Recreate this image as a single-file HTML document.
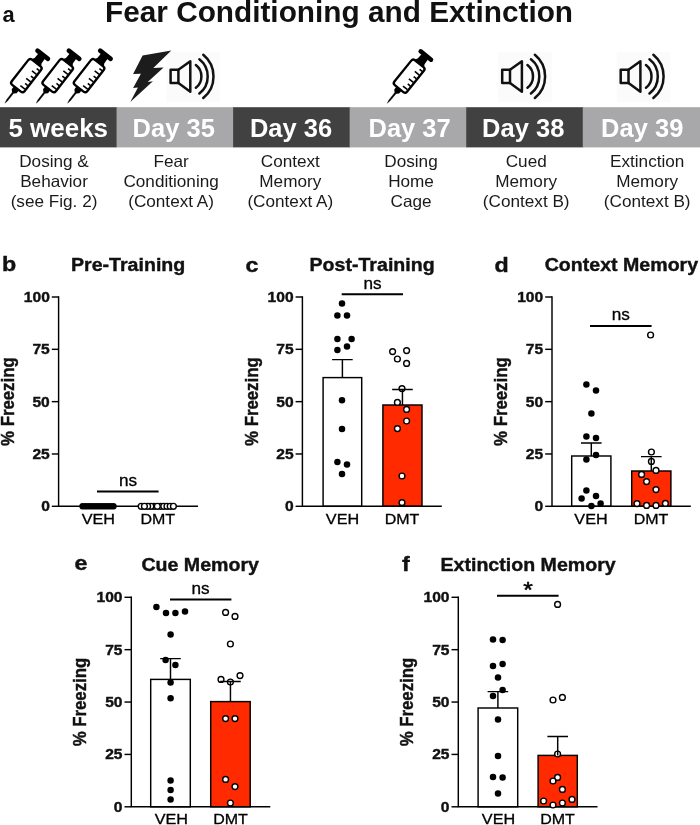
<!DOCTYPE html>
<html lang="en"><head><meta charset="utf-8"><title>Fear Conditioning and Extinction</title>
<style>
html,body{margin:0;padding:0;background:#fff;}
body{width:700px;height:825px;overflow:hidden;}
svg{display:block;font-family:'Liberation Sans', Arial, Helvetica, sans-serif;}
</style></head><body>
<svg width="700" height="825" viewBox="0 0 700 825">
<rect width="700" height="825" fill="#fff"/>
<text transform="translate(339.00,21.60) scale(1.01,1)" font-size="29.5" font-weight="700" text-anchor="middle" fill="#111" >Fear Conditioning and Extinction</text>
<text transform="translate(2.60,22.30) scale(0.97,1)" font-size="22.5" font-weight="700" text-anchor="start" fill="#111" >a</text>
<rect x="0.00" y="107.2" width="117.05" height="40.2" fill="#414141"/>
<text transform="translate(58.25,136.90) scale(1.03,1)" font-size="25.2" font-weight="700" text-anchor="middle" fill="#fff" >5 weeks</text>
<text transform="translate(54.00,167.20) scale(1.04,1)" font-size="16.5"  text-anchor="middle" fill="#1a1a1a" >Dosing &amp;</text>
<text transform="translate(54.00,187.20) scale(1.04,1)" font-size="16.5"  text-anchor="middle" fill="#1a1a1a" >Behavior</text>
<text transform="translate(54.00,207.20) scale(1.04,1)" font-size="16.5"  text-anchor="middle" fill="#1a1a1a" >(see Fig. 2)</text>
<rect x="116.55" y="107.2" width="117.05" height="40.2" fill="#a8a8aa"/>
<text transform="translate(173.70,136.90) scale(1.012,1)" font-size="25.2" font-weight="700" text-anchor="middle" fill="#fff" >Day 35</text>
<text transform="translate(171.10,167.20) scale(1.04,1)" font-size="16.5"  text-anchor="middle" fill="#1a1a1a" >Fear</text>
<text transform="translate(171.10,187.20) scale(1.04,1)" font-size="16.5"  text-anchor="middle" fill="#1a1a1a" >Conditioning</text>
<text transform="translate(171.10,207.20) scale(1.04,1)" font-size="16.5"  text-anchor="middle" fill="#1a1a1a" >(Context A)</text>
<rect x="233.10" y="107.2" width="117.05" height="40.2" fill="#414141"/>
<text transform="translate(291.00,136.90) scale(1.012,1)" font-size="25.2" font-weight="700" text-anchor="middle" fill="#fff" >Day 36</text>
<text transform="translate(290.30,167.20) scale(1.04,1)" font-size="16.5"  text-anchor="middle" fill="#1a1a1a" >Context</text>
<text transform="translate(290.30,187.20) scale(1.04,1)" font-size="16.5"  text-anchor="middle" fill="#1a1a1a" >Memory</text>
<text transform="translate(290.30,207.20) scale(1.04,1)" font-size="16.5"  text-anchor="middle" fill="#1a1a1a" >(Context A)</text>
<rect x="349.65" y="107.2" width="117.05" height="40.2" fill="#a8a8aa"/>
<text transform="translate(409.60,136.90) scale(1.012,1)" font-size="25.2" font-weight="700" text-anchor="middle" fill="#fff" >Day 37</text>
<text transform="translate(411.00,167.20) scale(1.04,1)" font-size="16.5"  text-anchor="middle" fill="#1a1a1a" >Dosing</text>
<text transform="translate(411.00,187.20) scale(1.04,1)" font-size="16.5"  text-anchor="middle" fill="#1a1a1a" >Home</text>
<text transform="translate(411.00,207.20) scale(1.04,1)" font-size="16.5"  text-anchor="middle" fill="#1a1a1a" >Cage</text>
<rect x="466.20" y="107.2" width="117.05" height="40.2" fill="#414141"/>
<text transform="translate(523.20,136.90) scale(1.012,1)" font-size="25.2" font-weight="700" text-anchor="middle" fill="#fff" >Day 38</text>
<text transform="translate(526.20,167.20) scale(1.04,1)" font-size="16.5"  text-anchor="middle" fill="#1a1a1a" >Cued</text>
<text transform="translate(526.20,187.20) scale(1.04,1)" font-size="16.5"  text-anchor="middle" fill="#1a1a1a" >Memory</text>
<text transform="translate(526.20,207.20) scale(1.04,1)" font-size="16.5"  text-anchor="middle" fill="#1a1a1a" >(Context B)</text>
<rect x="582.75" y="107.2" width="117.25" height="40.2" fill="#a8a8aa"/>
<text transform="translate(642.20,136.90) scale(1.012,1)" font-size="25.2" font-weight="700" text-anchor="middle" fill="#fff" >Day 39</text>
<text transform="translate(647.20,167.20) scale(1.04,1)" font-size="16.5"  text-anchor="middle" fill="#1a1a1a" >Extinction</text>
<text transform="translate(647.20,187.20) scale(1.04,1)" font-size="16.5"  text-anchor="middle" fill="#1a1a1a" >Memory</text>
<text transform="translate(647.20,207.20) scale(1.04,1)" font-size="16.5"  text-anchor="middle" fill="#1a1a1a" >(Context B)</text>
<rect x="166.6" y="52" width="53.5" height="50" fill="#fbfbfb"/>
<rect x="498.2" y="52" width="53.5" height="50" fill="#fbfbfb"/>
<rect x="616.7" y="52" width="53.5" height="50" fill="#fbfbfb"/>
<g transform="translate(4.7,103.4) rotate(-52)">
<path d="M0.3,0 L4,-0.75 L15,-0.85 L15,0.85 L4,0.75 Z" fill="#000" stroke="#000" stroke-width="0.3" stroke-linejoin="round"/>
<path d="M13.4,-1.2 L15.4,-3.1 L19.5,-3.3 L19.5,3.3 L15.4,3.1 L13.4,1.2 Z" fill="#000"/>
<rect x="19.2" y="-8.1" width="32" height="16.2" rx="2.6" fill="#fff" stroke="#000" stroke-width="2.35"/>
<line x1="23.6" y1="1.5" x2="23.6" y2="7.2" stroke="#000" stroke-width="1.6"/>
<line x1="28.3" y1="3.8" x2="28.3" y2="7.2" stroke="#000" stroke-width="1.6"/>
<line x1="33.0" y1="1.5" x2="33.0" y2="7.2" stroke="#000" stroke-width="1.6"/>
<line x1="37.7" y1="3.8" x2="37.7" y2="7.2" stroke="#000" stroke-width="1.6"/>
<line x1="42.4" y1="1.5" x2="42.4" y2="7.2" stroke="#000" stroke-width="1.6"/>
<line x1="47.1" y1="3.8" x2="47.1" y2="7.2" stroke="#000" stroke-width="1.6"/>
<path d="M51.6,-6 L54.2,-4.4 L60,-4.1 L60,4.1 L54.2,4.4 L51.6,6 Z" fill="#000"/>
<rect x="59.5" y="-8.9" width="4.5" height="17.8" rx="2.2" fill="#000"/>
</g>
<g transform="translate(36.050000000000004,103.4) rotate(-52)">
<path d="M0.3,0 L4,-0.75 L15,-0.85 L15,0.85 L4,0.75 Z" fill="#000" stroke="#000" stroke-width="0.3" stroke-linejoin="round"/>
<path d="M13.4,-1.2 L15.4,-3.1 L19.5,-3.3 L19.5,3.3 L15.4,3.1 L13.4,1.2 Z" fill="#000"/>
<rect x="19.2" y="-8.1" width="32" height="16.2" rx="2.6" fill="#fff" stroke="#000" stroke-width="2.35"/>
<line x1="23.6" y1="1.5" x2="23.6" y2="7.2" stroke="#000" stroke-width="1.6"/>
<line x1="28.3" y1="3.8" x2="28.3" y2="7.2" stroke="#000" stroke-width="1.6"/>
<line x1="33.0" y1="1.5" x2="33.0" y2="7.2" stroke="#000" stroke-width="1.6"/>
<line x1="37.7" y1="3.8" x2="37.7" y2="7.2" stroke="#000" stroke-width="1.6"/>
<line x1="42.4" y1="1.5" x2="42.4" y2="7.2" stroke="#000" stroke-width="1.6"/>
<line x1="47.1" y1="3.8" x2="47.1" y2="7.2" stroke="#000" stroke-width="1.6"/>
<path d="M51.6,-6 L54.2,-4.4 L60,-4.1 L60,4.1 L54.2,4.4 L51.6,6 Z" fill="#000"/>
<rect x="59.5" y="-8.9" width="4.5" height="17.8" rx="2.2" fill="#000"/>
</g>
<g transform="translate(67.4,103.4) rotate(-52)">
<path d="M0.3,0 L4,-0.75 L15,-0.85 L15,0.85 L4,0.75 Z" fill="#000" stroke="#000" stroke-width="0.3" stroke-linejoin="round"/>
<path d="M13.4,-1.2 L15.4,-3.1 L19.5,-3.3 L19.5,3.3 L15.4,3.1 L13.4,1.2 Z" fill="#000"/>
<rect x="19.2" y="-8.1" width="32" height="16.2" rx="2.6" fill="#fff" stroke="#000" stroke-width="2.35"/>
<line x1="23.6" y1="1.5" x2="23.6" y2="7.2" stroke="#000" stroke-width="1.6"/>
<line x1="28.3" y1="3.8" x2="28.3" y2="7.2" stroke="#000" stroke-width="1.6"/>
<line x1="33.0" y1="1.5" x2="33.0" y2="7.2" stroke="#000" stroke-width="1.6"/>
<line x1="37.7" y1="3.8" x2="37.7" y2="7.2" stroke="#000" stroke-width="1.6"/>
<line x1="42.4" y1="1.5" x2="42.4" y2="7.2" stroke="#000" stroke-width="1.6"/>
<line x1="47.1" y1="3.8" x2="47.1" y2="7.2" stroke="#000" stroke-width="1.6"/>
<path d="M51.6,-6 L54.2,-4.4 L60,-4.1 L60,4.1 L54.2,4.4 L51.6,6 Z" fill="#000"/>
<rect x="59.5" y="-8.9" width="4.5" height="17.8" rx="2.2" fill="#000"/>
</g>
<g transform="translate(387,103.5) rotate(-51)">
<path d="M0.3,0 L4,-0.75 L15,-0.85 L15,0.85 L4,0.75 Z" fill="#000" stroke="#000" stroke-width="0.3" stroke-linejoin="round"/>
<path d="M13.4,-1.2 L15.4,-3.1 L19.5,-3.3 L19.5,3.3 L15.4,3.1 L13.4,1.2 Z" fill="#000"/>
<rect x="19.2" y="-8.1" width="32" height="16.2" rx="2.6" fill="#fff" stroke="#000" stroke-width="2.35"/>
<line x1="23.6" y1="1.5" x2="23.6" y2="7.2" stroke="#000" stroke-width="1.6"/>
<line x1="28.3" y1="3.8" x2="28.3" y2="7.2" stroke="#000" stroke-width="1.6"/>
<line x1="33.0" y1="1.5" x2="33.0" y2="7.2" stroke="#000" stroke-width="1.6"/>
<line x1="37.7" y1="3.8" x2="37.7" y2="7.2" stroke="#000" stroke-width="1.6"/>
<line x1="42.4" y1="1.5" x2="42.4" y2="7.2" stroke="#000" stroke-width="1.6"/>
<line x1="47.1" y1="3.8" x2="47.1" y2="7.2" stroke="#000" stroke-width="1.6"/>
<path d="M51.6,-6 L54.2,-4.4 L60,-4.1 L60,4.1 L54.2,4.4 L51.6,6 Z" fill="#000"/>
<rect x="59.5" y="-8.9" width="4.5" height="17.8" rx="2.2" fill="#000"/>
</g>
<polygon points="142.6,55.5 171.3,50.6 153.3,68 163.6,67.5 147.7,81.9 152.9,81.2 130.3,102 137.9,87.4 133.1,87.9 140.9,73.7 133.1,74.1" fill="#1c1c1c"/>
<g transform="translate(0,0)" fill="none" stroke="#111" stroke-width="2.5" stroke-linecap="round" stroke-linejoin="round">
<path d="M178.4,69.7 L170.6,69.7 L170.6,83.1 L178.4,83.1 Z"/>
<path d="M178.4,69.7 L190.3,61.2 L190.3,91.7 L178.4,83.1"/>
<path d="M195.87,65.05 A14.4,14.4 0 0 1 195.87,87.75"/>
<path d="M199.36,59.30 A21.7,21.7 0 0 1 199.36,93.50"/>
<path d="M203.27,54.76 A28.0,28.0 0 0 1 203.27,98.04"/>
</g>
<g transform="translate(331.6,0)" fill="none" stroke="#111" stroke-width="2.5" stroke-linecap="round" stroke-linejoin="round">
<path d="M178.4,69.7 L170.6,69.7 L170.6,83.1 L178.4,83.1 Z"/>
<path d="M178.4,69.7 L190.3,61.2 L190.3,91.7 L178.4,83.1"/>
<path d="M195.87,65.05 A14.4,14.4 0 0 1 195.87,87.75"/>
<path d="M199.36,59.30 A21.7,21.7 0 0 1 199.36,93.50"/>
<path d="M203.27,54.76 A28.0,28.0 0 0 1 203.27,98.04"/>
</g>
<g transform="translate(450.1,0)" fill="none" stroke="#111" stroke-width="2.5" stroke-linecap="round" stroke-linejoin="round">
<path d="M178.4,69.7 L170.6,69.7 L170.6,83.1 L178.4,83.1 Z"/>
<path d="M178.4,69.7 L190.3,61.2 L190.3,91.7 L178.4,83.1"/>
<path d="M195.87,65.05 A14.4,14.4 0 0 1 195.87,87.75"/>
<path d="M199.36,59.30 A21.7,21.7 0 0 1 199.36,93.50"/>
<path d="M203.27,54.76 A28.0,28.0 0 0 1 203.27,98.04"/>
</g>
<text transform="translate(2.00,271.40) scale(1.14,1)" font-size="20.4" font-weight="700" text-anchor="start" fill="#111" stroke="#111" stroke-width="0.4">b</text>
<text transform="translate(128.10,270.90) scale(1.065,1)" font-size="18.4" font-weight="700" text-anchor="middle" fill="#111" stroke="#111" stroke-width="0.4">Pre-Training</text>
<path d="M58.6,296.28 L58.6,506.3 L198,506.3" fill="none" stroke="#000" stroke-width="1.45"/>
<line x1="51.800000000000004" y1="297.00" x2="58.6" y2="297.00" stroke="#000" stroke-width="1.45"/>
<text transform="translate(49.80,302.00) scale(1.075,1)" font-size="14.5" font-weight="700" text-anchor="end" fill="#111" stroke="#111" stroke-width="0.4">100</text>
<line x1="51.800000000000004" y1="349.32" x2="58.6" y2="349.32" stroke="#000" stroke-width="1.45"/>
<text transform="translate(49.80,354.32) scale(1.075,1)" font-size="14.5" font-weight="700" text-anchor="end" fill="#111" stroke="#111" stroke-width="0.4">75</text>
<line x1="51.800000000000004" y1="401.65" x2="58.6" y2="401.65" stroke="#000" stroke-width="1.45"/>
<text transform="translate(49.80,406.65) scale(1.075,1)" font-size="14.5" font-weight="700" text-anchor="end" fill="#111" stroke="#111" stroke-width="0.4">50</text>
<line x1="51.800000000000004" y1="453.98" x2="58.6" y2="453.98" stroke="#000" stroke-width="1.45"/>
<text transform="translate(49.80,458.98) scale(1.075,1)" font-size="14.5" font-weight="700" text-anchor="end" fill="#111" stroke="#111" stroke-width="0.4">25</text>
<line x1="51.800000000000004" y1="506.30" x2="58.6" y2="506.30" stroke="#000" stroke-width="1.45"/>
<text transform="translate(49.80,511.30) scale(1.075,1)" font-size="14.5" font-weight="700" text-anchor="end" fill="#111" stroke="#111" stroke-width="0.4">0</text>
<text transform="translate(14.0,401.65) rotate(-90) scale(1,1.08)" font-size="16.8" font-weight="700" text-anchor="middle" fill="#111" stroke="#111" stroke-width="0.4">% Freezing</text>
<circle cx="82.60" cy="506.30" r="3.25" fill="#000"/>
<circle cx="85.40" cy="506.30" r="3.25" fill="#000"/>
<circle cx="88.20" cy="506.30" r="3.25" fill="#000"/>
<circle cx="91.00" cy="506.30" r="3.25" fill="#000"/>
<circle cx="93.80" cy="506.30" r="3.25" fill="#000"/>
<circle cx="96.60" cy="506.30" r="3.25" fill="#000"/>
<circle cx="99.40" cy="506.30" r="3.25" fill="#000"/>
<circle cx="102.20" cy="506.30" r="3.25" fill="#000"/>
<circle cx="105.00" cy="506.30" r="3.25" fill="#000"/>
<circle cx="107.80" cy="506.30" r="3.25" fill="#000"/>
<circle cx="110.60" cy="506.30" r="3.25" fill="#000"/>
<circle cx="113.40" cy="506.30" r="3.25" fill="#000"/>
<circle cx="141.20" cy="506.30" r="2.9" fill="#fff" stroke="#000" stroke-width="1.4"/>
<circle cx="154.08" cy="506.30" r="2.9" fill="#fff" stroke="#000" stroke-width="1.4"/>
<circle cx="150.86" cy="506.30" r="2.9" fill="#fff" stroke="#000" stroke-width="1.4"/>
<circle cx="147.64" cy="506.30" r="2.9" fill="#fff" stroke="#000" stroke-width="1.4"/>
<circle cx="144.42" cy="506.30" r="2.9" fill="#fff" stroke="#000" stroke-width="1.4"/>
<circle cx="160.52" cy="506.30" r="2.9" fill="#fff" stroke="#000" stroke-width="1.4"/>
<circle cx="157.30" cy="506.30" r="2.9" fill="#fff" stroke="#000" stroke-width="1.4"/>
<circle cx="163.74" cy="506.30" r="2.9" fill="#fff" stroke="#000" stroke-width="1.4"/>
<circle cx="166.96" cy="506.30" r="2.9" fill="#fff" stroke="#000" stroke-width="1.4"/>
<circle cx="170.18" cy="506.30" r="2.9" fill="#fff" stroke="#000" stroke-width="1.4"/>
<circle cx="173.40" cy="506.30" r="2.9" fill="#fff" stroke="#000" stroke-width="1.4"/>
<text transform="translate(128.10,485.60) scale(1.04,1)" font-size="16.5"  text-anchor="middle" fill="#000" stroke="#000" stroke-width="0.3">ns</text>
<line x1="97.00" y1="491.40" x2="158.60" y2="491.40" stroke="#000" stroke-width="2"/>
<text transform="translate(98.30,524.00) scale(1.095,1)" font-size="14.8"  text-anchor="middle" fill="#000" stroke="#000" stroke-width="0.3">VEH</text>
<text transform="translate(157.70,524.00) scale(1.08,1)" font-size="14.8"  text-anchor="middle" fill="#000" stroke="#000" stroke-width="0.3">DMT</text>
<text transform="translate(245.60,272.10) scale(1.14,1)" font-size="20.4" font-weight="700" text-anchor="start" fill="#111" stroke="#111" stroke-width="0.4">c</text>
<text transform="translate(372.10,270.90) scale(1.065,1)" font-size="18.4" font-weight="700" text-anchor="middle" fill="#111" stroke="#111" stroke-width="0.4">Post-Training</text>
<rect x="323.10" y="377.60" width="38.60" height="128.70" fill="#fff" stroke="#000" stroke-width="1.45"/>
<rect x="382.90" y="405.00" width="39.10" height="101.30" fill="#ff2a00" stroke="#000" stroke-width="1.45"/>
<path d="M302.4,296.28 L302.4,506.3 L441.8,506.3" fill="none" stroke="#000" stroke-width="1.45"/>
<line x1="295.59999999999997" y1="297.00" x2="302.4" y2="297.00" stroke="#000" stroke-width="1.45"/>
<text transform="translate(293.60,302.00) scale(1.075,1)" font-size="14.5" font-weight="700" text-anchor="end" fill="#111" stroke="#111" stroke-width="0.4">100</text>
<line x1="295.59999999999997" y1="349.32" x2="302.4" y2="349.32" stroke="#000" stroke-width="1.45"/>
<text transform="translate(293.60,354.32) scale(1.075,1)" font-size="14.5" font-weight="700" text-anchor="end" fill="#111" stroke="#111" stroke-width="0.4">75</text>
<line x1="295.59999999999997" y1="401.65" x2="302.4" y2="401.65" stroke="#000" stroke-width="1.45"/>
<text transform="translate(293.60,406.65) scale(1.075,1)" font-size="14.5" font-weight="700" text-anchor="end" fill="#111" stroke="#111" stroke-width="0.4">50</text>
<line x1="295.59999999999997" y1="453.98" x2="302.4" y2="453.98" stroke="#000" stroke-width="1.45"/>
<text transform="translate(293.60,458.98) scale(1.075,1)" font-size="14.5" font-weight="700" text-anchor="end" fill="#111" stroke="#111" stroke-width="0.4">25</text>
<line x1="295.59999999999997" y1="506.30" x2="302.4" y2="506.30" stroke="#000" stroke-width="1.45"/>
<text transform="translate(293.60,511.30) scale(1.075,1)" font-size="14.5" font-weight="700" text-anchor="end" fill="#111" stroke="#111" stroke-width="0.4">0</text>
<text transform="translate(258.4,401.65) rotate(-90) scale(1,1.08)" font-size="16.8" font-weight="700" text-anchor="middle" fill="#111" stroke="#111" stroke-width="0.4">% Freezing</text>
<circle cx="342.00" cy="303.40" r="3.25" fill="#000"/>
<circle cx="337.40" cy="315.40" r="3.25" fill="#000"/>
<circle cx="347.00" cy="315.40" r="3.25" fill="#000"/>
<circle cx="337.40" cy="339.00" r="3.25" fill="#000"/>
<circle cx="351.60" cy="339.00" r="3.25" fill="#000"/>
<circle cx="347.00" cy="346.40" r="3.25" fill="#000"/>
<circle cx="337.40" cy="350.00" r="3.25" fill="#000"/>
<circle cx="342.00" cy="400.30" r="3.25" fill="#000"/>
<circle cx="342.00" cy="429.00" r="3.25" fill="#000"/>
<circle cx="337.40" cy="462.00" r="3.25" fill="#000"/>
<circle cx="347.00" cy="464.40" r="3.25" fill="#000"/>
<circle cx="342.00" cy="474.00" r="3.25" fill="#000"/>
<circle cx="392.60" cy="351.60" r="2.9" fill="#fff" stroke="#000" stroke-width="1.4"/>
<circle cx="406.60" cy="350.60" r="2.9" fill="#fff" stroke="#000" stroke-width="1.4"/>
<circle cx="397.40" cy="359.00" r="2.9" fill="#fff" stroke="#000" stroke-width="1.4"/>
<circle cx="406.60" cy="363.40" r="2.9" fill="#fff" stroke="#000" stroke-width="1.4"/>
<circle cx="402.00" cy="388.60" r="2.9" fill="#fff" stroke="#000" stroke-width="1.4"/>
<circle cx="397.40" cy="402.40" r="2.9" fill="#fff" stroke="#000" stroke-width="1.4"/>
<circle cx="406.60" cy="409.40" r="2.9" fill="#fff" stroke="#000" stroke-width="1.4"/>
<circle cx="406.60" cy="421.00" r="2.9" fill="#fff" stroke="#000" stroke-width="1.4"/>
<circle cx="397.40" cy="428.60" r="2.9" fill="#fff" stroke="#000" stroke-width="1.4"/>
<circle cx="402.00" cy="476.00" r="2.9" fill="#fff" stroke="#000" stroke-width="1.4"/>
<circle cx="402.00" cy="502.60" r="2.9" fill="#fff" stroke="#000" stroke-width="1.4"/>
<path d="M342.40,377.60 L342.40,359.60 M332.10,359.60 L352.70,359.60" fill="none" stroke="#000" stroke-width="1.45"/>
<path d="M402.45,405.00 L402.45,389.40 M392.15,389.40 L412.75,389.40" fill="none" stroke="#000" stroke-width="1.45"/>
<text transform="translate(372.60,288.50) scale(1.04,1)" font-size="16.5"  text-anchor="middle" fill="#000" stroke="#000" stroke-width="0.3">ns</text>
<line x1="341.70" y1="294.30" x2="403.00" y2="294.30" stroke="#000" stroke-width="2"/>
<text transform="translate(342.50,524.00) scale(1.095,1)" font-size="14.8"  text-anchor="middle" fill="#000" stroke="#000" stroke-width="0.3">VEH</text>
<text transform="translate(402.00,524.00) scale(1.08,1)" font-size="14.8"  text-anchor="middle" fill="#000" stroke="#000" stroke-width="0.3">DMT</text>
<text transform="translate(494.60,272.10) scale(1.14,1)" font-size="20.4" font-weight="700" text-anchor="start" fill="#111" stroke="#111" stroke-width="0.4">d</text>
<text transform="translate(621.40,270.90) scale(1.065,1)" font-size="18.4" font-weight="700" text-anchor="middle" fill="#111" stroke="#111" stroke-width="0.4">Context Memory</text>
<rect x="571.70" y="456.00" width="39.20" height="50.30" fill="#fff" stroke="#000" stroke-width="1.45"/>
<rect x="631.70" y="471.00" width="39.20" height="35.30" fill="#ff2a00" stroke="#000" stroke-width="1.45"/>
<path d="M552.0,296.28 L552.0,506.3 L690.8,506.3" fill="none" stroke="#000" stroke-width="1.45"/>
<line x1="545.2" y1="297.00" x2="552.0" y2="297.00" stroke="#000" stroke-width="1.45"/>
<text transform="translate(543.20,302.00) scale(1.075,1)" font-size="14.5" font-weight="700" text-anchor="end" fill="#111" stroke="#111" stroke-width="0.4">100</text>
<line x1="545.2" y1="349.32" x2="552.0" y2="349.32" stroke="#000" stroke-width="1.45"/>
<text transform="translate(543.20,354.32) scale(1.075,1)" font-size="14.5" font-weight="700" text-anchor="end" fill="#111" stroke="#111" stroke-width="0.4">75</text>
<line x1="545.2" y1="401.65" x2="552.0" y2="401.65" stroke="#000" stroke-width="1.45"/>
<text transform="translate(543.20,406.65) scale(1.075,1)" font-size="14.5" font-weight="700" text-anchor="end" fill="#111" stroke="#111" stroke-width="0.4">50</text>
<line x1="545.2" y1="453.98" x2="552.0" y2="453.98" stroke="#000" stroke-width="1.45"/>
<text transform="translate(543.20,458.98) scale(1.075,1)" font-size="14.5" font-weight="700" text-anchor="end" fill="#111" stroke="#111" stroke-width="0.4">25</text>
<line x1="545.2" y1="506.30" x2="552.0" y2="506.30" stroke="#000" stroke-width="1.45"/>
<text transform="translate(543.20,511.30) scale(1.075,1)" font-size="14.5" font-weight="700" text-anchor="end" fill="#111" stroke="#111" stroke-width="0.4">0</text>
<text transform="translate(507,401.65) rotate(-90) scale(1,1.08)" font-size="16.8" font-weight="700" text-anchor="middle" fill="#111" stroke="#111" stroke-width="0.4">% Freezing</text>
<circle cx="586.40" cy="384.40" r="3.25" fill="#000"/>
<circle cx="596.00" cy="390.40" r="3.25" fill="#000"/>
<circle cx="591.40" cy="413.60" r="3.25" fill="#000"/>
<circle cx="586.40" cy="436.60" r="3.25" fill="#000"/>
<circle cx="596.00" cy="438.00" r="3.25" fill="#000"/>
<circle cx="596.00" cy="455.00" r="3.25" fill="#000"/>
<circle cx="586.40" cy="459.60" r="3.25" fill="#000"/>
<circle cx="586.40" cy="490.60" r="3.25" fill="#000"/>
<circle cx="596.00" cy="496.00" r="3.25" fill="#000"/>
<circle cx="581.60" cy="498.60" r="3.25" fill="#000"/>
<circle cx="600.60" cy="503.40" r="3.25" fill="#000"/>
<circle cx="591.40" cy="506.00" r="3.25" fill="#000"/>
<circle cx="650.60" cy="335.00" r="2.9" fill="#fff" stroke="#000" stroke-width="1.4"/>
<circle cx="651.40" cy="452.00" r="2.9" fill="#fff" stroke="#000" stroke-width="1.4"/>
<circle cx="651.40" cy="461.40" r="2.9" fill="#fff" stroke="#000" stroke-width="1.4"/>
<circle cx="656.00" cy="470.40" r="2.9" fill="#fff" stroke="#000" stroke-width="1.4"/>
<circle cx="641.60" cy="474.40" r="2.9" fill="#fff" stroke="#000" stroke-width="1.4"/>
<circle cx="646.60" cy="481.60" r="2.9" fill="#fff" stroke="#000" stroke-width="1.4"/>
<circle cx="656.00" cy="489.60" r="2.9" fill="#fff" stroke="#000" stroke-width="1.4"/>
<circle cx="637.00" cy="503.60" r="2.9" fill="#fff" stroke="#000" stroke-width="1.4"/>
<circle cx="646.60" cy="505.40" r="2.9" fill="#fff" stroke="#000" stroke-width="1.4"/>
<circle cx="656.00" cy="505.40" r="2.9" fill="#fff" stroke="#000" stroke-width="1.4"/>
<circle cx="665.40" cy="503.40" r="2.9" fill="#fff" stroke="#000" stroke-width="1.4"/>
<path d="M591.30,456.00 L591.30,443.00 M581.00,443.00 L601.60,443.00" fill="none" stroke="#000" stroke-width="1.45"/>
<path d="M651.30,471.00 L651.30,456.60 M641.00,456.60 L661.60,456.60" fill="none" stroke="#000" stroke-width="1.45"/>
<text transform="translate(620.70,320.20) scale(1.04,1)" font-size="16.5"  text-anchor="middle" fill="#000" stroke="#000" stroke-width="0.3">ns</text>
<line x1="590.00" y1="326.00" x2="651.60" y2="326.00" stroke="#000" stroke-width="2"/>
<text transform="translate(591.00,524.00) scale(1.095,1)" font-size="14.8"  text-anchor="middle" fill="#000" stroke="#000" stroke-width="0.3">VEH</text>
<text transform="translate(651.00,524.00) scale(1.08,1)" font-size="14.8"  text-anchor="middle" fill="#000" stroke="#000" stroke-width="0.3">DMT</text>
<text transform="translate(74.60,570.30) scale(1.14,1)" font-size="20.4" font-weight="700" text-anchor="start" fill="#111" stroke="#111" stroke-width="0.4">e</text>
<text transform="translate(200.20,571.30) scale(1.065,1)" font-size="18.4" font-weight="700" text-anchor="middle" fill="#111" stroke="#111" stroke-width="0.4">Cue Memory</text>
<rect x="150.70" y="679.40" width="39.60" height="127.40" fill="#fff" stroke="#000" stroke-width="1.45"/>
<rect x="210.70" y="701.60" width="39.50" height="105.20" fill="#ff2a00" stroke="#000" stroke-width="1.45"/>
<path d="M131.3,596.5799999999999 L131.3,806.8 L270.3,806.8" fill="none" stroke="#000" stroke-width="1.45"/>
<line x1="124.50000000000001" y1="597.30" x2="131.3" y2="597.30" stroke="#000" stroke-width="1.45"/>
<text transform="translate(122.50,602.30) scale(1.075,1)" font-size="14.5" font-weight="700" text-anchor="end" fill="#111" stroke="#111" stroke-width="0.4">100</text>
<line x1="124.50000000000001" y1="649.67" x2="131.3" y2="649.67" stroke="#000" stroke-width="1.45"/>
<text transform="translate(122.50,654.67) scale(1.075,1)" font-size="14.5" font-weight="700" text-anchor="end" fill="#111" stroke="#111" stroke-width="0.4">75</text>
<line x1="124.50000000000001" y1="702.05" x2="131.3" y2="702.05" stroke="#000" stroke-width="1.45"/>
<text transform="translate(122.50,707.05) scale(1.075,1)" font-size="14.5" font-weight="700" text-anchor="end" fill="#111" stroke="#111" stroke-width="0.4">50</text>
<line x1="124.50000000000001" y1="754.42" x2="131.3" y2="754.42" stroke="#000" stroke-width="1.45"/>
<text transform="translate(122.50,759.42) scale(1.075,1)" font-size="14.5" font-weight="700" text-anchor="end" fill="#111" stroke="#111" stroke-width="0.4">25</text>
<line x1="124.50000000000001" y1="806.80" x2="131.3" y2="806.80" stroke="#000" stroke-width="1.45"/>
<text transform="translate(122.50,811.80) scale(1.075,1)" font-size="14.5" font-weight="700" text-anchor="end" fill="#111" stroke="#111" stroke-width="0.4">0</text>
<text transform="translate(86.1,702.05) rotate(-90) scale(1,1.08)" font-size="16.8" font-weight="700" text-anchor="middle" fill="#111" stroke="#111" stroke-width="0.4">% Freezing</text>
<circle cx="156.40" cy="607.00" r="3.25" fill="#000"/>
<circle cx="166.00" cy="613.00" r="3.25" fill="#000"/>
<circle cx="175.40" cy="613.00" r="3.25" fill="#000"/>
<circle cx="185.00" cy="611.60" r="3.25" fill="#000"/>
<circle cx="170.60" cy="634.40" r="3.25" fill="#000"/>
<circle cx="165.60" cy="660.00" r="3.25" fill="#000"/>
<circle cx="175.40" cy="665.00" r="3.25" fill="#000"/>
<circle cx="170.60" cy="682.40" r="3.25" fill="#000"/>
<circle cx="170.60" cy="698.20" r="3.25" fill="#000"/>
<circle cx="170.60" cy="780.40" r="3.25" fill="#000"/>
<circle cx="170.60" cy="790.00" r="3.25" fill="#000"/>
<circle cx="170.60" cy="799.60" r="3.25" fill="#000"/>
<circle cx="225.60" cy="612.40" r="2.9" fill="#fff" stroke="#000" stroke-width="1.4"/>
<circle cx="235.00" cy="616.40" r="2.9" fill="#fff" stroke="#000" stroke-width="1.4"/>
<circle cx="230.40" cy="644.00" r="2.9" fill="#fff" stroke="#000" stroke-width="1.4"/>
<circle cx="240.00" cy="675.60" r="2.9" fill="#fff" stroke="#000" stroke-width="1.4"/>
<circle cx="221.00" cy="679.40" r="2.9" fill="#fff" stroke="#000" stroke-width="1.4"/>
<circle cx="230.40" cy="682.00" r="2.9" fill="#fff" stroke="#000" stroke-width="1.4"/>
<circle cx="225.60" cy="718.60" r="2.9" fill="#fff" stroke="#000" stroke-width="1.4"/>
<circle cx="235.00" cy="718.60" r="2.9" fill="#fff" stroke="#000" stroke-width="1.4"/>
<circle cx="225.60" cy="779.40" r="2.9" fill="#fff" stroke="#000" stroke-width="1.4"/>
<circle cx="235.00" cy="786.60" r="2.9" fill="#fff" stroke="#000" stroke-width="1.4"/>
<circle cx="230.40" cy="803.00" r="2.9" fill="#fff" stroke="#000" stroke-width="1.4"/>
<path d="M170.50,679.40 L170.50,658.60 M160.20,658.60 L180.80,658.60" fill="none" stroke="#000" stroke-width="1.45"/>
<path d="M230.45,701.60 L230.45,681.40 M220.15,681.40 L240.75,681.40" fill="none" stroke="#000" stroke-width="1.45"/>
<text transform="translate(200.60,593.60) scale(1.04,1)" font-size="16.5"  text-anchor="middle" fill="#000" stroke="#000" stroke-width="0.3">ns</text>
<line x1="170.00" y1="599.40" x2="231.40" y2="599.40" stroke="#000" stroke-width="2"/>
<text transform="translate(171.40,824.10) scale(1.095,1)" font-size="14.8"  text-anchor="middle" fill="#000" stroke="#000" stroke-width="0.3">VEH</text>
<text transform="translate(230.50,824.10) scale(1.08,1)" font-size="14.8"  text-anchor="middle" fill="#000" stroke="#000" stroke-width="0.3">DMT</text>
<text transform="translate(402.00,570.60) scale(1.14,1)" font-size="20.4" font-weight="700" text-anchor="start" fill="#111" stroke="#111" stroke-width="0.4">f</text>
<text transform="translate(528.10,571.30) scale(1.065,1)" font-size="18.4" font-weight="700" text-anchor="middle" fill="#111" stroke="#111" stroke-width="0.4">Extinction Memory</text>
<rect x="478.10" y="708.00" width="39.60" height="98.80" fill="#fff" stroke="#000" stroke-width="1.45"/>
<rect x="538.10" y="755.40" width="39.20" height="51.40" fill="#ff2a00" stroke="#000" stroke-width="1.45"/>
<path d="M458.3,596.5799999999999 L458.3,806.8 L597.5,806.8" fill="none" stroke="#000" stroke-width="1.45"/>
<line x1="451.5" y1="597.30" x2="458.3" y2="597.30" stroke="#000" stroke-width="1.45"/>
<text transform="translate(449.50,602.30) scale(1.075,1)" font-size="14.5" font-weight="700" text-anchor="end" fill="#111" stroke="#111" stroke-width="0.4">100</text>
<line x1="451.5" y1="649.67" x2="458.3" y2="649.67" stroke="#000" stroke-width="1.45"/>
<text transform="translate(449.50,654.67) scale(1.075,1)" font-size="14.5" font-weight="700" text-anchor="end" fill="#111" stroke="#111" stroke-width="0.4">75</text>
<line x1="451.5" y1="702.05" x2="458.3" y2="702.05" stroke="#000" stroke-width="1.45"/>
<text transform="translate(449.50,707.05) scale(1.075,1)" font-size="14.5" font-weight="700" text-anchor="end" fill="#111" stroke="#111" stroke-width="0.4">50</text>
<line x1="451.5" y1="754.42" x2="458.3" y2="754.42" stroke="#000" stroke-width="1.45"/>
<text transform="translate(449.50,759.42) scale(1.075,1)" font-size="14.5" font-weight="700" text-anchor="end" fill="#111" stroke="#111" stroke-width="0.4">25</text>
<line x1="451.5" y1="806.80" x2="458.3" y2="806.80" stroke="#000" stroke-width="1.45"/>
<text transform="translate(449.50,811.80) scale(1.075,1)" font-size="14.5" font-weight="700" text-anchor="end" fill="#111" stroke="#111" stroke-width="0.4">0</text>
<text transform="translate(413.3,702.05) rotate(-90) scale(1,1.08)" font-size="16.8" font-weight="700" text-anchor="middle" fill="#111" stroke="#111" stroke-width="0.4">% Freezing</text>
<circle cx="493.00" cy="639.40" r="3.25" fill="#000"/>
<circle cx="502.60" cy="640.00" r="3.25" fill="#000"/>
<circle cx="493.00" cy="666.00" r="3.25" fill="#000"/>
<circle cx="502.60" cy="664.00" r="3.25" fill="#000"/>
<circle cx="498.00" cy="677.60" r="3.25" fill="#000"/>
<circle cx="502.60" cy="690.00" r="3.25" fill="#000"/>
<circle cx="493.00" cy="696.00" r="3.25" fill="#000"/>
<circle cx="498.00" cy="719.40" r="3.25" fill="#000"/>
<circle cx="498.00" cy="756.00" r="3.25" fill="#000"/>
<circle cx="493.00" cy="777.00" r="3.25" fill="#000"/>
<circle cx="502.60" cy="777.60" r="3.25" fill="#000"/>
<circle cx="498.00" cy="793.40" r="3.25" fill="#000"/>
<circle cx="557.60" cy="604.40" r="2.9" fill="#fff" stroke="#000" stroke-width="1.4"/>
<circle cx="553.00" cy="700.00" r="2.9" fill="#fff" stroke="#000" stroke-width="1.4"/>
<circle cx="562.40" cy="697.40" r="2.9" fill="#fff" stroke="#000" stroke-width="1.4"/>
<circle cx="557.60" cy="754.00" r="2.9" fill="#fff" stroke="#000" stroke-width="1.4"/>
<circle cx="557.60" cy="777.40" r="2.9" fill="#fff" stroke="#000" stroke-width="1.4"/>
<circle cx="553.00" cy="781.00" r="2.9" fill="#fff" stroke="#000" stroke-width="1.4"/>
<circle cx="562.40" cy="789.40" r="2.9" fill="#fff" stroke="#000" stroke-width="1.4"/>
<circle cx="543.60" cy="801.00" r="2.9" fill="#fff" stroke="#000" stroke-width="1.4"/>
<circle cx="572.00" cy="799.40" r="2.9" fill="#fff" stroke="#000" stroke-width="1.4"/>
<circle cx="562.40" cy="803.00" r="2.9" fill="#fff" stroke="#000" stroke-width="1.4"/>
<circle cx="553.00" cy="805.00" r="2.9" fill="#fff" stroke="#000" stroke-width="1.4"/>
<path d="M497.90,708.00 L497.90,691.60 M487.60,691.60 L508.20,691.60" fill="none" stroke="#000" stroke-width="1.45"/>
<path d="M557.70,755.40 L557.70,736.40 M547.40,736.40 L568.00,736.40" fill="none" stroke="#000" stroke-width="1.45"/>
<text transform="translate(528.10,596.80) scale(1.12,1)" font-size="22"  text-anchor="middle" fill="#000" stroke="#000" stroke-width="0.5">*</text>
<line x1="497.00" y1="595.70" x2="558.60" y2="595.70" stroke="#000" stroke-width="2"/>
<text transform="translate(498.50,824.10) scale(1.095,1)" font-size="14.8"  text-anchor="middle" fill="#000" stroke="#000" stroke-width="0.3">VEH</text>
<text transform="translate(557.50,824.10) scale(1.08,1)" font-size="14.8"  text-anchor="middle" fill="#000" stroke="#000" stroke-width="0.3">DMT</text>
</svg>
</body></html>
